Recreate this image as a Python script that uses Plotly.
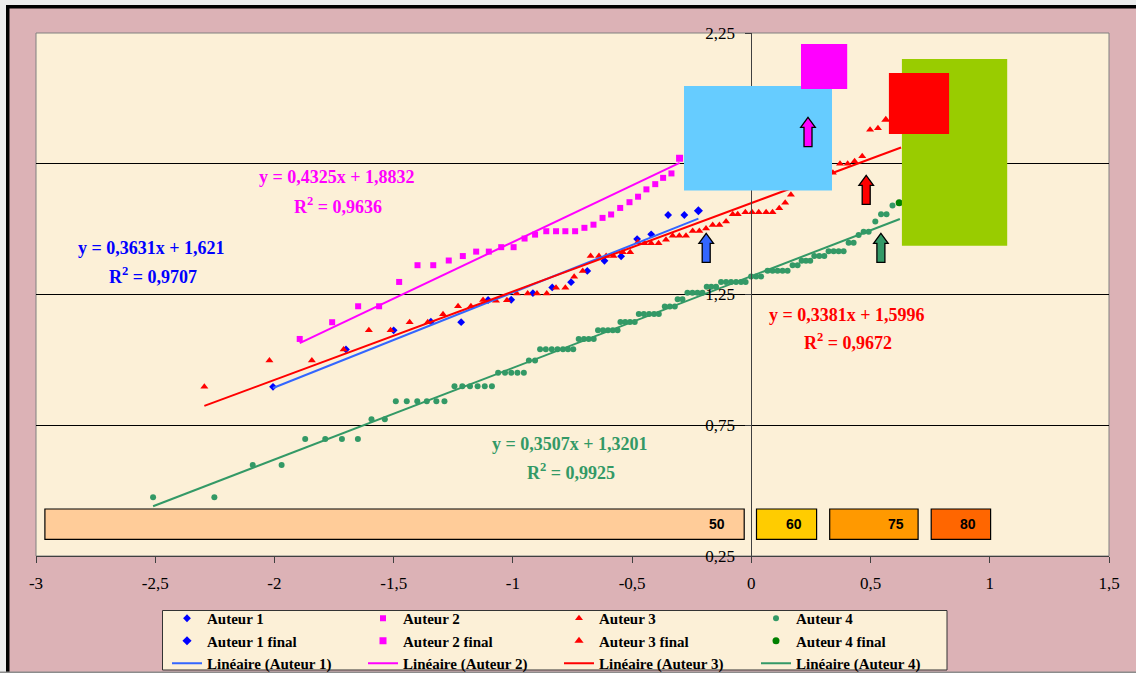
import plotly.graph_objects as go

# ---------------- data ----------------
SERIES_NAMES = ["Auteur 1", "Auteur 2", "Auteur 3", "Auteur 4"]

A1_X = [-2.006, -1.700, -1.500, -1.344, -1.217, -1.104, -1.007, -0.916, -0.835,
        -0.756, -0.688, -0.616, -0.546, -0.479, -0.420, -0.349, -0.281]
A1_Y = [0.897, 1.040, 1.113, 1.146, 1.144, 1.229, 1.230, 1.255, 1.277,
        1.297, 1.340, 1.379, 1.396, 1.462, 1.480, 1.554, 1.554]
A1_FINAL_X = [-0.222]
A1_FINAL_Y = [1.570]

A2_X = [-1.894, -1.758, -1.649, -1.561, -1.477, -1.400, -1.334, -1.269, -1.210, -1.154,
        -1.101, -1.049, -0.997, -0.951, -0.907, -0.860, -0.819, -0.780, -0.739, -0.700,
        -0.662, -0.624, -0.588, -0.550, -0.511, -0.475, -0.440, -0.403, -0.370, -0.335]
A2_Y = [1.080, 1.144, 1.205, 1.205, 1.298, 1.362, 1.362, 1.380, 1.397, 1.414,
        1.414, 1.431, 1.431, 1.464, 1.479, 1.492, 1.492, 1.492, 1.492, 1.505,
        1.517, 1.543, 1.556, 1.581, 1.603, 1.624, 1.652, 1.672, 1.696, 1.713]
A2_FINAL_X = [-0.301]
A2_FINAL_Y = [1.771]

A3_X = [-2.294, -2.021, -1.843, -1.710, -1.604, -1.513, -1.433, -1.357, -1.293, -1.230,
        -1.176, -1.125, -1.071, -1.025, -0.984, -0.938, -0.899, -0.858, -0.819, -0.780,
        -0.743, -0.707, -0.674, -0.639, -0.609, -0.578, -0.539, -0.508, -0.476, -0.448,
        -0.420, -0.389, -0.358, -0.330, -0.302, -0.274, -0.246, -0.218, -0.190, -0.162,
        -0.134, -0.106, -0.078, -0.057, -0.025, 0.003, 0.031, 0.062, 0.089, 0.117,
        0.142, 0.166, 0.342, 0.372, 0.404, 0.433, 0.465, 0.498, 0.531]
A3_Y = [0.897, 0.998, 0.998, 1.040, 1.113, 1.113, 1.144, 1.144, 1.174, 1.205,
        1.205, 1.229, 1.226, 1.228, 1.254, 1.254, 1.254, 1.254, 1.276, 1.276,
        1.318, 1.340, 1.397, 1.397, 1.397, 1.397, 1.412, 1.412, 1.450, 1.446,
        1.446, 1.446, 1.459, 1.475, 1.475, 1.475, 1.493, 1.493, 1.502, 1.516,
        1.516, 1.529, 1.557, 1.557, 1.565, 1.565, 1.565, 1.565, 1.565, 1.580,
        1.601, 1.631, 1.716, 1.750, 1.750, 1.760, 1.779, 1.880, 1.886]
A3_FINAL_X = [0.564]
A3_FINAL_Y = [1.918]

A4_X = [-2.509, -2.252, -2.091, -1.970, -1.871, -1.787, -1.717, -1.650, -1.593, -1.537,
        -1.491, -1.445, -1.401, -1.361, -1.321, -1.287,
        -1.245, -1.212, -1.180, -1.148, -1.118, -1.088,
        -1.062, -1.033, -1.007, -0.981, -0.954,
        -0.933, -0.907,
        -0.886, -0.862, -0.837, -0.813, -0.790, -0.769, -0.747,
        -0.724, -0.702, -0.682, -0.661,
        -0.643, -0.622, -0.601, -0.581, -0.561,
        -0.549, -0.529, -0.509, -0.489,
        -0.472, -0.451, -0.429, -0.408, -0.388,
        -0.363, -0.342, -0.321,
        -0.309, -0.289,
        -0.268, -0.247, -0.226, -0.205,
        -0.187, -0.168, -0.148,
        -0.127, -0.106, -0.085, -0.064, -0.043, -0.024,
        -0.001, 0.020, 0.041,
        0.068, 0.089, 0.110, 0.131, 0.152,
        0.173, 0.194,
        0.211, 0.229, 0.247,
        0.264, 0.285, 0.306,
        0.324, 0.345, 0.366, 0.387,
        0.408, 0.429,
        0.450,
        0.471, 0.492,
        0.520,
        0.544, 0.567,
        0.592]
A4_Y = [0.475, 0.475, 0.598, 0.598, 0.697, 0.697, 0.697, 0.697, 0.773, 0.773,
        0.842, 0.842, 0.842, 0.842, 0.842, 0.842,
        0.899, 0.899, 0.899, 0.899, 0.899, 0.899,
        0.951, 0.951, 0.951, 0.951, 0.951,
        0.998, 0.998,
        1.041, 1.041, 1.041, 1.041, 1.041, 1.041, 1.041,
        1.080, 1.080, 1.080, 1.080,
        1.113, 1.113, 1.113, 1.113, 1.113,
        1.145, 1.145, 1.145, 1.145,
        1.175, 1.175, 1.175, 1.175, 1.175,
        1.204, 1.204, 1.204,
        1.232, 1.232,
        1.257, 1.257, 1.257, 1.257,
        1.280, 1.280, 1.280,
        1.298, 1.298, 1.298, 1.298, 1.298, 1.298,
        1.319, 1.319, 1.319,
        1.341, 1.341, 1.341, 1.341, 1.341,
        1.362, 1.362,
        1.379, 1.379, 1.379,
        1.397, 1.397, 1.397,
        1.415, 1.415, 1.415, 1.415,
        1.448, 1.448,
        1.478,
        1.490, 1.490,
        1.529,
        1.557, 1.557,
        1.590]
A4_FINAL_X = [0.620]
A4_FINAL_Y = [1.601]

# linear trend lines (as printed on the chart)
FIT_SLOPE = [0.3631, 0.4325, 0.3381, 0.3507]
FIT_INTERCEPT = [1.621, 1.8832, 1.5996, 1.3201]
FIT_R2 = [0.9707, 0.9636, 0.9672, 0.9925]
FIT_X_START = [-2.006, -1.894, -2.294, -2.509]
FIT_X_END = [-0.222, -0.301, 0.628, 0.623]

BAND_LABELS = ["50", "60", "75", "80"]

X_TICKS = [-3, -2.5, -2, -1.5, -1, -0.5, 0, 0.5, 1, 1.5]
X_TICK_LABELS = ["-3", "-2,5", "-2", "-1,5", "-1", "-0,5", "0", "0,5", "1", "1,5"]
Y_TICKS = [0.25, 0.75, 1.25, 1.75, 2.25]
Y_TICK_LABELS = ["0,25", "0,75", "1,25", "1,75", "2,25"]

# ---------------- layout geometry ----------------
W, H = 1136, 673
ML, MR, MT, MB = 36, 27, 33, 117
PW, PH = W - ML - MR, H - MT - MB
XR = [-3, 1.5]
YR = [0.25, 2.25]


def pxx(px):  # pixel -> paper x
    return (px - ML) / PW


def pxy(py):  # pixel -> paper y
    return (H - MB - py) / PH


def dx(px):  # pixel -> data x
    return XR[0] + (px - ML) / PW * (XR[1] - XR[0])


def dy(py):  # pixel -> data y
    return YR[0] + (H - MB - py) / PH * (YR[1] - YR[0])


def fmt(v):
    return str(v).replace(".", ",")


BLUE, MAG, RED, GREEN = "#0000ff", "#ff00ff", "#ff0000", "#339966"
LINE_COLORS = ["#3366ff", "#ff00ff", "#ff0000", "#339966"]
LEGENDS = ["legend", "legend2", "legend3", "legend4"]

fig = go.Figure()

series = [
    (A1_X, A1_Y, A1_FINAL_X, A1_FINAL_Y, "diamond", 6, BLUE, BLUE),
    (A2_X, A2_Y, A2_FINAL_X, A2_FINAL_Y, "square", 6, MAG, MAG),
    (A3_X, A3_Y, A3_FINAL_X, A3_FINAL_Y, "triangle-up", 7, RED, RED),
    (A4_X, A4_Y, A4_FINAL_X, A4_FINAL_Y, "circle", 6, GREEN, "#008000"),
]

for i, (sx, sy, fx, fy, sym, size, col, fcol) in enumerate(series):
    fig.add_trace(go.Scatter(x=sx, y=sy, mode="markers", name=SERIES_NAMES[i],
                             legend=LEGENDS[i],
                             marker=dict(symbol=sym, size=size, color=col, line=dict(width=0))))
    fig.add_trace(go.Scatter(x=fx, y=fy, mode="markers", name=SERIES_NAMES[i] + " final",
                             legend=LEGENDS[i],
                             marker=dict(symbol=sym, size=size + 1, color=fcol, line=dict(width=0))))

for i in range(4):
    xs = [FIT_X_START[i], FIT_X_END[i]]
    ys = [FIT_SLOPE[i] * v + FIT_INTERCEPT[i] for v in xs]
    fig.add_trace(go.Scatter(x=xs, y=ys, mode="lines", name=f"Linéaire ({SERIES_NAMES[i]})",
                             legend=LEGENDS[i],
                             line=dict(color=LINE_COLORS[i], width=2)))

shapes = []
# outer frame
shapes.append(dict(type="rect", xref="paper", yref="paper", x0=pxx(0), x1=pxx(W), y0=pxy(0), y1=pxy(5),
                   fillcolor="#ececec", line=dict(width=0), layer="below"))
shapes.append(dict(type="rect", xref="paper", yref="paper", x0=pxx(0), x1=pxx(6), y0=pxy(0), y1=pxy(H),
                   fillcolor="#ececec", line=dict(width=0), layer="below"))
shapes.append(dict(type="rect", xref="paper", yref="paper", x0=pxx(6), x1=pxx(W), y0=pxy(5), y1=pxy(8.5),
                   fillcolor="#000000", line=dict(width=0), layer="below"))
shapes.append(dict(type="rect", xref="paper", yref="paper", x0=pxx(6), x1=pxx(9.5), y0=pxy(5), y1=pxy(H),
                   fillcolor="#000000", line=dict(width=0), layer="below"))
shapes.append(dict(type="rect", xref="paper", yref="paper", x0=pxx(0), x1=pxx(W), y0=pxy(671.5), y1=pxy(H),
                   fillcolor="#8c8c8c", line=dict(width=0), layer="below"))
# plot area border
shapes.append(dict(type="rect", xref="paper", yref="paper", x0=0, x1=1, y0=0, y1=1,
                   line=dict(color="#808080", width=1), layer="between"))
# legend box
shapes.append(dict(type="rect", xref="paper", yref="paper", x0=pxx(162.5), x1=pxx(947), y0=pxy(610.5), y1=pxy(670),
                   fillcolor="#fcf0d7", line=dict(color="#333333", width=1), layer="below"))

# coloured boxes drawn over the chart
for (x0, y0, x1, y1, c) in [(684, 86, 832, 190.5, "#66ccff"),
                            (801, 44, 847.2, 89, "#ff00ff"),
                            (901.9, 59, 1007.2, 245.7, "#99cc00"),
                            (888.9, 73, 949.1, 134, "#ff0000")]:
    shapes.append(dict(type="rect", xref="x", yref="y", x0=dx(x0), x1=dx(x1), y0=dy(y1), y1=dy(y0),
                       fillcolor=c, line=dict(width=0), layer="above"))

# arrows
def arrow(cx, ty, by, color):
    hh, hs, head = 7.3, 4.0, 10.0
    pts = [(cx, ty), (cx + hh, ty + head), (cx + hs, ty + head), (cx + hs, by),
           (cx - hs, by), (cx - hs, ty + head), (cx - hh, ty + head)]
    path = "M " + " L ".join(f"{dx(a):.5f},{dy(b):.5f}" for a, b in pts) + " Z"
    return dict(type="path", xref="x", yref="y", path=path, fillcolor=color,
                line=dict(color="black", width=1.3), layer="above")


shapes.append(arrow(706.2, 233.3, 262.3, "#3366ff"))
shapes.append(arrow(808.0, 117.3, 146.7, "#ff00ff"))
shapes.append(arrow(866.2, 175.3, 204.3, "#ff0000"))
shapes.append(arrow(880.9, 233.3, 262.3, "#339966"))

# bottom bands
BAND_PX = [(44.9, 744.2, "#ffcc99", 727), (756.5, 816.6, "#ffcc00", 804.3),
           (829.7, 918.1, "#ff9900", 905.8), (931.2, 990.6, "#ff6600", 978.3)]
annotations = []
for lab, (x0, x1, c, tx) in zip(BAND_LABELS, BAND_PX):
    shapes.append(dict(type="rect", xref="x", yref="y", x0=dx(x0), x1=dx(x1), y0=dy(539.3), y1=dy(509),
                       fillcolor=c, line=dict(color="black", width=1.2), layer="above"))
    annotations.append(dict(x=dx(tx), y=dy(524), xref="x", yref="y", text=lab, showarrow=False,
                            xanchor="right", yanchor="middle",
                            font=dict(family="Liberation Sans", size=14, color="black", weight="bold")))

# trend-line equations
EQ_POS = [((151.5, 248), (152.5, 275)),
          ((337.0, 177), (337.5, 205)),
          ((847.0, 314.5), (848.0, 341)),
          ((569.7, 443.5), (571.0, 471))]
EQ_COLORS = ["#0000ff", "#ff00ff", "#ff0000", "#339966"]
for i in range(4):
    (ex, ey), (rx, ry) = EQ_POS[i]
    f = dict(family="Liberation Serif", size=18, color=EQ_COLORS[i], weight="bold")
    annotations.append(dict(x=dx(ex), y=dy(ey), xref="x", yref="y", showarrow=False,
                            text=f"y = {fmt(FIT_SLOPE[i])}x + {fmt(FIT_INTERCEPT[i])}", font=f))
    annotations.append(dict(x=dx(rx), y=dy(ry), xref="x", yref="y", showarrow=False,
                            text=f"R<sup>2</sup> = {fmt(FIT_R2[i])}", font=f))

legend_common = dict(orientation="v", bgcolor="rgba(0,0,0,0)", borderwidth=0,
                     font=dict(family="Liberation Serif", size=15, color="black", weight="bold"),
                     yanchor="top", xanchor="left", y=pxy(602), tracegroupgap=0, itemwidth=30)
LEG_X = [167, 363, 559, 756]

tickfont = dict(family="Liberation Serif", size=17, color="black")
fig.update_layout(
    width=W, height=H,
    margin=dict(l=ML, r=MR, t=MT, b=MB, pad=0, autoexpand=False),
    paper_bgcolor="#dcb2b6", plot_bgcolor="#fcf0d7",
    showlegend=True,
    shapes=shapes, annotations=annotations,
    xaxis=dict(range=XR, tickvals=X_TICKS, ticktext=X_TICK_LABELS, ticks="outside", ticklen=6,
               tickcolor="#404040", showline=True, linecolor="#404040", linewidth=1,
               showgrid=False, zeroline=False, tickfont=tickfont, ticklabelstandoff=6,
               fixedrange=True),
    yaxis=dict(range=YR, tickvals=Y_TICKS, ticktext=Y_TICK_LABELS, ticks="outside", ticklen=6,
               tickcolor="#404040", showline=True, linecolor="#404040", linewidth=1,
               anchor="free", position=(0 - XR[0]) / (XR[1] - XR[0]),
               showgrid=True, gridcolor="#000000", gridwidth=1, zeroline=False,
               tickfont=tickfont, ticklabelstandoff=7, fixedrange=True),
)
for lg, lx in zip(LEGENDS, LEG_X):
    fig.update_layout({lg: dict(legend_common, x=pxx(lx))})

fig.write_html("out.html", config={"displayModeBar": False},
               post_script="document.body.style.margin='0';document.body.style.overflow='hidden';")
